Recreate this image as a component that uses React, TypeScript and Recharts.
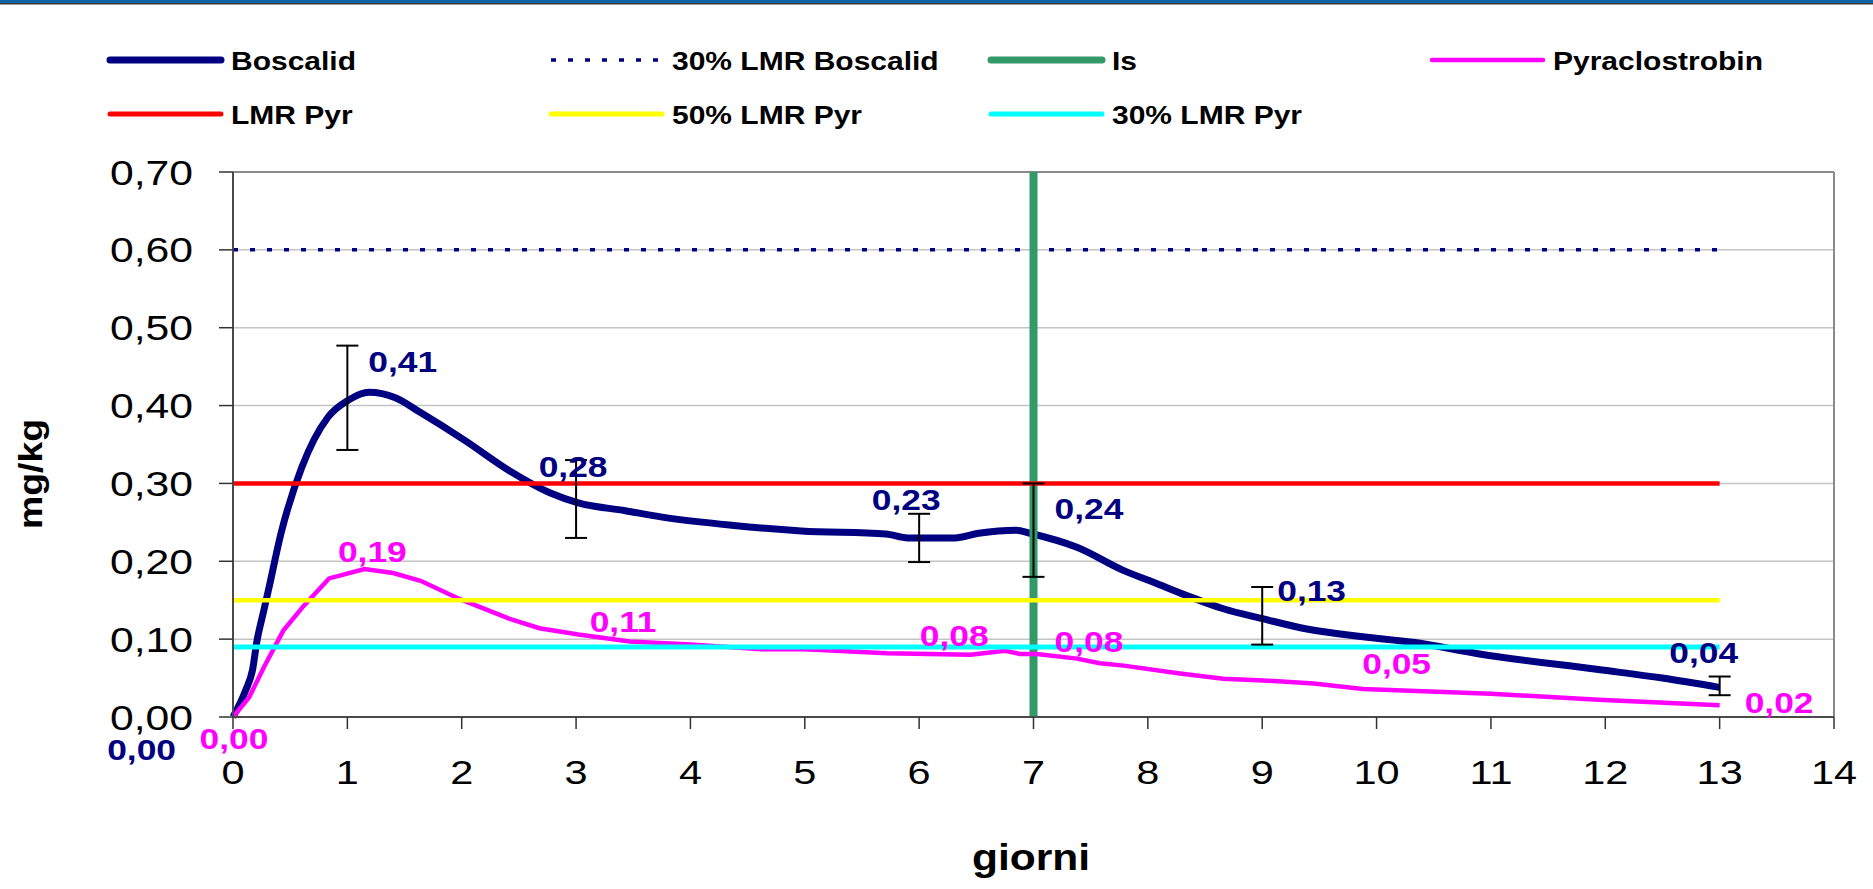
import React from 'react';
import { LineChart, Line, XAxis, YAxis, CartesianGrid, ErrorBar, LabelList, ReferenceLine } from 'recharts';

// Boscalid residue curve (giorni -> mg/kg)
const boscalidDays = [0, 0.11, 0.17, 0.21, 0.27, 0.31, 0.42, 0.6, 0.83, 1.01, 1.19, 1.42, 1.64, 2.03, 2.42, 2.77, 3.02, 3.43, 3.74, 4.38, 4.97, 5.71, 5.9, 6.31, 6.52, 6.85, 6.97, 7.38, 7.79, 8.05, 8.34, 8.66, 9.01, 9.39, 9.88, 10.32, 10.9, 11.94, 12.5, 13];
const boscalidValues = [0, 0.034, 0.06, 0.098, 0.137, 0.163, 0.236, 0.32, 0.385, 0.407, 0.417, 0.41, 0.391, 0.355, 0.316, 0.288, 0.275, 0.265, 0.257, 0.246, 0.239, 0.235, 0.23, 0.23, 0.236, 0.24, 0.236, 0.218, 0.188, 0.173, 0.156, 0.139, 0.126, 0.113, 0.103, 0.096, 0.081, 0.061, 0.05, 0.038];

// Pyraclostrobin residue curve
const pyrDays = [0, 0.14, 0.27, 0.44, 0.62, 0.84, 1.15, 1.4, 1.64, 1.99, 2.42, 2.68, 3.02, 3.47, 4.0, 4.62, 5.0, 5.72, 6.45, 6.75, 6.88, 7.03, 7.38, 7.58, 7.79, 8.28, 8.66, 9.01, 9.45, 9.88, 11.0, 11.94, 13];
const pyrValues = [0, 0.025, 0.064, 0.111, 0.143, 0.178, 0.19, 0.185, 0.175, 0.151, 0.126, 0.114, 0.106, 0.097, 0.093, 0.087, 0.087, 0.082, 0.08, 0.085, 0.081, 0.081, 0.075, 0.069, 0.066, 0.056, 0.049, 0.047, 0.043, 0.036, 0.03, 0.022, 0.015];

// sampling days, labelled values and Boscalid std dev
const sampleDays = [0, 1, 3, 6, 7, 9, 13];
const boscalidSample = [0, 0.41, 0.28, 0.23, 0.24, 0.13, 0.04];
const boscalidSd = [0, 0.067, 0.05, 0.031, 0.06, 0.037, 0.012];
const pyrSample = [0, 0.19, 0.11, 0.08, 0.08, 0.05, 0.02];

// limits
const lmrBoscalid30 = 0.6;
const lmrPyr = 0.3;
const lmrPyr50 = 0.15;
const lmrPyr30 = 0.09;
const limitFrom = 0;
const limitTo = 13;
const isDay = 7;

const xTicks = [0, 1, 2, 3, 4, 5, 6, 7, 8, 9, 10, 11, 12, 13, 14];
const yTicks = [0, 0.1, 0.2, 0.3, 0.4, 0.5, 0.6, 0.7];

const FONT = '"Liberation Sans", Arial, sans-serif';
const SX = 1.22;

const fmt = (v: number) => v.toFixed(2).replace('.', ',');

const toPts = (days: number[], vals: number[]) => days.map((d, i) => ({ day: d, v: vals[i] }));
const flat = (v: number) => [{ day: limitFrom, v }, { day: limitTo, v }];

const boscalidData = toPts(boscalidDays, boscalidValues);
const pyrData = toPts(pyrDays, pyrValues);
const boscalidPts = toPts(sampleDays, boscalidSample);
const pyrPts = toPts(sampleDays, pyrSample);
const errPts = sampleDays
  .map((d, i) => ({ day: d, v: boscalidSample[i], sd: boscalidSd[i] }))
  .filter(p => p.sd > 0);
const isData = [{ day: isDay, v: 0 }, { day: isDay, v: 0.7 }];

const StretchText = ({ x, y, anchor, size, weight, fill, sx = SX, children }: any) => (
  <g transform={`translate(${x},${y}) scale(${sx},1)`}>
    <text x={0} y={0} textAnchor={anchor} fontSize={size} fontWeight={weight || 'normal'} fill={fill || '#000'} fontFamily={FONT}>
      {children}
    </text>
  </g>
);

// label placement around each sample point (dx, dy to baseline)
const boscalidLabelPos = [
  { dx: -57, dy: 43, a: 'end' },
  { dx: 21, dy: -26, a: 'start' },
  { dx: -3, dy: -22, a: 'middle' },
  { dx: -13, dy: -28, a: 'middle' },
  { dx: 21, dy: -11, a: 'start' },
  { dx: 15, dy: -15, a: 'start' },
  { dx: -16, dy: -23, a: 'middle' },
];
const pyrLabelPos = [
  { dx: 1, dy: 32, a: 'middle' },
  { dx: 25, dy: -7, a: 'middle' },
  { dx: 47, dy: 1, a: 'middle' },
  { dx: 35, dy: -9, a: 'middle' },
  { dx: 21, dy: -3, a: 'start' },
  { dx: 100, dy: -4, a: 'start' },
  { dx: 25, dy: 12, a: 'start' },
];

const makeLabel = (pos: any[], color: string) => (props: any) => {
  const { x, y, value, index } = props;
  const p = pos[index] || { dx: 0, dy: -10, a: 'middle' };
  return (
    <StretchText x={x + p.dx} y={y + p.dy} anchor={p.a} size={29} weight="bold" fill={color}>
      {fmt(Number(value))}
    </StretchText>
  );
};

const XTick = ({ x, y, payload }: any) => (
  <StretchText x={x} y={y + 54.5} anchor="middle" size={34}>{payload.value}</StretchText>
);
const YTick = ({ x, y, payload }: any) => (
  <StretchText x={x} y={y + 12.5} anchor="end" size={35}>{fmt(payload.value)}</StretchText>
);

const legendCols = [107, 548, 988, 1429];
const legendRows = [60, 114];
const legendItems = [
  { name: 'Boscalid', color: '#000080', w: 7, col: 0, row: 0 },
  { name: '30% LMR Boscalid', color: '#000080', w: 3.5, col: 1, row: 0, dash: '5 12' },
  { name: 'Is', color: '#339966', w: 7, col: 2, row: 0 },
  { name: 'Pyraclostrobin', color: '#FF00FF', w: 4.5, col: 3, row: 0 },
  { name: 'LMR Pyr', color: '#FF0000', w: 5, col: 0, row: 1 },
  { name: '50% LMR Pyr', color: '#FFFF00', w: 5, col: 1, row: 1 },
  { name: '30% LMR Pyr', color: '#00FFFF', w: 5, col: 2, row: 1 },
];

const App = () => {
  return (
    <div style={{ position: 'relative', width: 1873, height: 889, background: '#fff', overflow: 'hidden' }}>
      <style>{'body{margin:0}'}</style>
      {/* top band */}
      <div style={{ position: 'absolute', left: 0, top: 0, width: 1873, height: 3, background: '#0F63A6' }} />
      <div style={{ position: 'absolute', left: 0, top: 3, width: 1873, height: 1, background: '#3a3a3a' }} />
      <div style={{ position: 'absolute', left: 0, top: 4, width: 1873, height: 1, background: '#9a9a9a' }} />

      <div style={{ position: 'absolute', left: 0, top: 0 }}>
        <LineChart width={1873} height={889} margin={{ top: 172, right: 39, bottom: 72, left: 113 }}>
          <CartesianGrid horizontal vertical={false} stroke="#c4c4c4" strokeWidth={1.5} />
          <XAxis
            dataKey="day"
            type="number"
            domain={[0, 14]}
            ticks={xTicks}
            height={100}
            interval={0}
            tickSize={12}
            tickMargin={0}
            tick={<XTick />}
            axisLine={{ stroke: '#4a4a4a', strokeWidth: 2 }}
            tickLine={{ stroke: '#333', strokeWidth: 1.5 }}
          />
          <YAxis
            dataKey="v"
            type="number"
            domain={[0, 0.7]}
            ticks={yTicks}
            width={120}
            interval={0}
            tickSize={14}
            tickMargin={26}
            tick={<YTick />}
            axisLine={{ stroke: '#4a4a4a', strokeWidth: 2 }}
            tickLine={{ stroke: '#333', strokeWidth: 1.5 }}
          />
          <ReferenceLine y={0.7} stroke="#8a8a8a" strokeWidth={2} />
          <ReferenceLine x={14} stroke="#8a8a8a" strokeWidth={2} />

          <Line data={boscalidData} dataKey="v" type="monotone" stroke="#000080" strokeWidth={7} dot={false} activeDot={false} isAnimationActive={false} />
          <Line data={flat(lmrBoscalid30)} dataKey="v" type="linear" stroke="#000080" strokeWidth={3.5} strokeDasharray="5 12" dot={false} activeDot={false} isAnimationActive={false} />
          <Line data={isData} dataKey="v" type="linear" stroke="#339966" strokeWidth={8} dot={false} activeDot={false} isAnimationActive={false} />
          <Line data={pyrData} dataKey="v" type="linear" stroke="#FF00FF" strokeWidth={4.5} dot={false} activeDot={false} isAnimationActive={false} />
          <Line data={flat(lmrPyr)} dataKey="v" type="linear" stroke="#FF0000" strokeWidth={4.5} dot={false} activeDot={false} isAnimationActive={false} />
          <Line data={flat(lmrPyr50)} dataKey="v" type="linear" stroke="#FFFF00" strokeWidth={4.5} dot={false} activeDot={false} isAnimationActive={false} />
          <Line data={flat(lmrPyr30)} dataKey="v" type="linear" stroke="#00FFFF" strokeWidth={5} dot={false} activeDot={false} isAnimationActive={false} />

          <Line data={errPts} dataKey="v" stroke="none" dot={false} activeDot={false} isAnimationActive={false}>
            <ErrorBar dataKey="sd" width={11} stroke="#000" strokeWidth={2} direction="y" />
          </Line>
          <Line data={boscalidPts} dataKey="v" stroke="none" dot={false} activeDot={false} isAnimationActive={false}>
            <LabelList dataKey="v" content={makeLabel(boscalidLabelPos, '#000080')} />
          </Line>
          <Line data={pyrPts} dataKey="v" stroke="none" dot={false} activeDot={false} isAnimationActive={false}>
            <LabelList dataKey="v" content={makeLabel(pyrLabelPos, '#FF00FF')} />
          </Line>
        </LineChart>
      </div>

      {/* legend and axis titles */}
      <svg width={1873} height={889} style={{ position: 'absolute', left: 0, top: 0, pointerEvents: 'none' }}>
        {legendItems.map(it => {
          const x0 = legendCols[it.col];
          const y = legendRows[it.row];
          return (
            <g key={it.name}>
              <line
                x1={x0 + 3}
                x2={x0 + 114}
                y1={y}
                y2={y}
                stroke={it.color}
                strokeWidth={it.w}
                strokeLinecap={it.dash ? 'butt' : 'round'}
                strokeDasharray={it.dash}
              />
              <StretchText x={x0 + 124} y={y + 10} anchor="start" size={25} weight="bold" sx={1.2}>{it.name}</StretchText>
            </g>
          );
        })}
        <text
          transform="translate(42,474) rotate(-90)"
          textAnchor="middle"
          fontSize={33}
          fontWeight="bold"
          fontFamily={FONT}
          textLength={110}
          lengthAdjust="spacingAndGlyphs"
        >
          mg/kg
        </text>
        <StretchText x={1031} y={870} anchor="middle" size={37} weight="bold" sx={1.15}>giorni</StretchText>
      </svg>
    </div>
  );
};

export default App;
